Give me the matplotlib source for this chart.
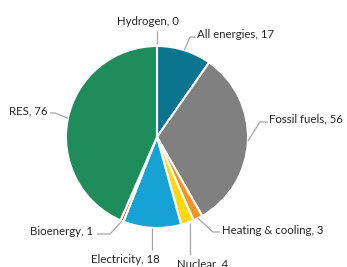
import matplotlib
matplotlib.use("Agg")
import matplotlib.pyplot as plt
import numpy as np

categories = ["Hydrogen", "All energies", "Fossil fuels", "Heating & cooling",
              "Nuclear", "Electricity", "Bioenergy", "RES"]
values = [0, 17, 56, 3, 4, 18, 1, 76]
colors = ["#F5A623", "#0B7590", "#808080", "#F39325", "#FFD80F", "#17A2D5", "#B8530A", "#1F8C5C"]

# label layout: (text x, text y, ha, elbow points list)
layout = {
    "Hydrogen":          ((-0.10, 1.265), "center", [(0.0, 1.17)]),
    "All energies":      ((0.44, 1.13), "left", [(0.363, 1.099), (0.43, 1.099)]),
    "Fossil fuels":      ((1.235, 0.20), "left", [(1.13, 0.165), (1.22, 0.165)]),
    "Heating & cooling": ((0.71, -1.025), "left", [(0.615, -1.044), (0.69, -1.044)]),
    "Nuclear":           ((0.50, -1.39), "center", [(0.36, -1.30)]),
    "Electricity":       ((-0.35, -1.345), "center", [(-0.02, -1.245)]),
    "Bioenergy":         ((-0.70, -1.035), "right", [(-0.516, -1.066), (-0.66, -1.066)]),
    "RES":               ((-1.20, 0.285), "right", [(-1.12, 0.264), (-1.176, 0.264)]),
}

fig = plt.figure(figsize=(3.47, 2.67), dpi=100)
ax = fig.add_axes([0, 0, 1, 1])

wedges, _ = ax.pie(values, colors=colors, startangle=90, counterclock=False,
                   radius=1.0, center=(0, 0), frame=True,
                   wedgeprops=dict(edgecolor="white", linewidth=1.5))
ax.set_xlim(-1.725, 2.088)
ax.set_ylim(-1.4286, 1.5055)
ax.set_aspect("auto")
ax.axis("off")

for w, cat, val in zip(wedges, categories, values):
    mid = np.deg2rad((w.theta1 + w.theta2) / 2)
    ax_pt = (np.cos(mid) * 1.0, np.sin(mid) * 1.0)
    (tx, ty), ha, pts = layout[cat]
    if cat in ("Nuclear", "Electricity"):
        x0 = ax_pt[0] + (0.03 if cat == "Nuclear" else -0.0)
        xs = [x0, x0]
        ys = [ax_pt[1], pts[0][1]]
    elif cat == "Hydrogen":
        xs = [ax_pt[0], pts[0][0]]
        ys = [ax_pt[1] + 0.02, pts[0][1]]
    else:
        xs = [ax_pt[0]] + [p[0] for p in pts]
        ys = [ax_pt[1]] + [p[1] for p in pts]
    ax.plot(xs, ys, color="#A6A6A6", linewidth=0.9, solid_capstyle="butt")
    ax.text(tx, ty, f"{cat}, {val}", ha=ha, va="center", fontsize=8.2,
            family="Lato", color="#262626")

fig.savefig("out.png", dpi=100)
